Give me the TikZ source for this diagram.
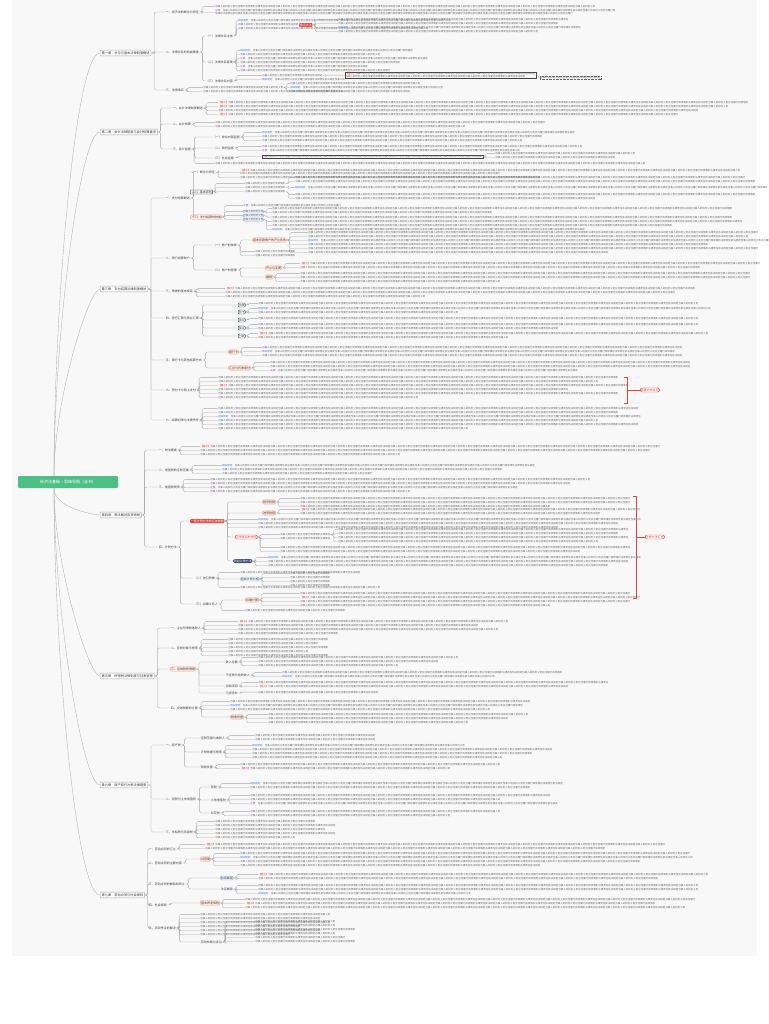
\documentclass[tikz,border=0pt]{standalone}
\usepackage{fontspec}
\setmainfont{Noto Sans CJK SC}
\XeTeXlinebreaklocale "zh"
\XeTeXlinebreakskip=0pt plus 1pt
\usetikzlibrary{positioning}

\definecolor{mapbg}{HTML}{F8F8F8}
\definecolor{rootgreen}{HTML}{4DBF87}
\definecolor{linkgray}{HTML}{A8A8A8}
\definecolor{txtgray}{HTML}{6A6A6A}
\definecolor{hlred}{HTML}{E8453C}
\definecolor{hlblue}{HTML}{3A7BD5}
\definecolor{hlpurple}{HTML}{8E44AD}
\definecolor{orgline}{HTML}{F4A582}
\definecolor{orgfill}{HTML}{FDEEE6}
\definecolor{navy}{HTML}{3C4A66}

\tikzset{
    link/.style={draw=linkgray, line width=0.3pt, rounded corners=1.5pt},
    summ/.style={draw=hlred, line width=0.4pt},
    leaf/.style={font=\fontsize{2.5}{3.1}\selectfont, text=txtgray, inner sep=0.25pt, align=left},
    sec/.style={font=\fontsize{3}{3.6}\selectfont, text=black!75, inner sep=0.6pt},
    chap/.style={draw=gray!70, fill=white, rounded corners=0.8pt, font=\fontsize{3.2}{4}\selectfont, text=black!80, inner sep=1.4pt},
    rootbox/.style={fill=rootgreen, text=white, rounded corners=1.2pt, minimum width=100pt, minimum height=12pt, font=\fontsize{4}{5}\selectfont},
    orgo/.style={sec, draw=orgline, fill=orgfill, rounded corners=2pt, inner sep=0.8pt},
    redf/.style={sec, fill=hlred, text=white, rounded corners=0.8pt},
    redo/.style={sec, draw=hlred, fill=white, text=hlred, rounded corners=2pt},
    navyf/.style={sec, fill=navy, text=white, rounded corners=1.5pt},
    navyo/.style={sec, draw=navy, fill=white, line width=0.4pt, rounded corners=1pt},
    darkbox/.style={sec, draw=black!80, rounded corners=0.5pt},
    bluesec/.style={sec, draw=hlblue!60, fill=hlblue!6, rounded corners=1.5pt},
    bluebox/.style={draw=hlblue!60, fill=hlblue!6, rounded corners=1pt},
    boxed/.style={draw=black!75, line width=0.35pt},
    dotbox/.style={draw=black!60, densely dotted},
    tw/.style={}
}

% filler lines, 4 chars a unit
\newcommand\ft[2]{%
    \ifcase#2\or\textcolor{hlred}{【重点】}\or\textcolor{hlblue}{相关规定：}\or\textcolor{hlpurple}{注意：}\fi%
    \foreach \k in {1,...,#1}{\pgfmathtruncatemacro\mm{mod(\k,6)}\ifcase\mm 依法规定\or 当事人的\or 权利义务\or 应当履行\or 具体情形\or 法律责任\fi}}

% topic node and its connector
\newcommand\sn[6][sec]{%
    \node[#1,anchor=west] (#2) at (#3,#4) {#5};
    \draw[link] (#6.east) -- ++(3,0) |- (#2.west);}

% block of leaves: name, parent, x, y, width, entries
\newcommand\lv[7][]{%
    \foreach \nn/\cc [count=\i, remember=\i as \j (initially 0)] in {#7}{%
        \pgfmathtruncatemacro\wrapq{10*\nn+(\cc>0)*15 > #6+16 ? 1 : 0}%
        \ifnum\wrapq=1 \tikzset{tw/.style={text width=#6pt}}\else\tikzset{tw/.style={}}\fi
        \ifnum\i=1
            \node[leaf,tw,anchor=north west,#1] (#2-\i) at (#4,#5) {\ft{\nn}{\cc}};
        \else
            \node[leaf,tw,anchor=north west,#1] (#2-\i) at ([yshift=-0.8pt]#2-\j.south west) {\ft{\nn}{\cc}};
        \fi
        \draw[link] (#3.east) -- ++(2.5,0) |- (#2-\i.west);
    }}

\begin{document}
\begin{tikzpicture}[x=1pt,y=-1pt]
    \useasboundingbox (0,0) rectangle (768,1024);
    \fill[mapbg] (12,0) rectangle (757,956);

    \node[rootbox] (root) at (68,482) {经济法基础·思维导图（全书）};
    \node[chap,anchor=west] (c1) at (100,53) {第一章　总论与基本法律制度概述};
    \node[chap,anchor=west] (c2) at (100,132) {第二章　会计法律制度与会计核算要求};
    \node[chap,anchor=west] (c3) at (100,289) {第三章　支付结算法律制度概述};
    \node[chap,anchor=west] (c4) at (100,515) {第四章　税法概述及货物税};
    \node[chap,anchor=west] (c5) at (100,676) {第五章　所得税法律制度与征收管理};
    \node[chap,anchor=west] (c6) at (100,785) {第六章　财产和行为税法律制度};
    \node[chap,anchor=west] (c7) at (100,895) {第七章　劳动合同与社会保险};
    \foreach \ch in {c1,c2,c3}
        \draw[link] ([xshift=-14pt]root.north) to[out=90,in=180,out looseness=1,in looseness=0.15] (\ch.west);
    \foreach \ch in {c4,c5,c6,c7}
        \draw[link] ([xshift=-14pt]root.south) to[out=-90,in=180,out looseness=1,in looseness=0.15] (\ch.west);

    % chapter 1
    \sn{s11}{165}{12}{一、经济法的概念与特征}{c1}
    \lv{a11}{s11}{215}{5}{400}{38/0,75/3}
    \sn{s12}{165}{52}{二、法律关系的构成要素}{c1}
    \sn{t121}{205}{36}{（一）法律关系主体}{s12}
    \lv{a121}{t121}{238}{19}{200}{20/2,6/0,19/0}
    \sn[redf]{r121}{299}{25}{重点关注}{a121-2}
    \lv{a122}{r121}{338}{18}{230}{23/0,22/0,23/2,20/0}
    \sn{t122}{205}{62}{（二）法律关系客体}{s12}
    \lv{a123}{t122}{240}{49}{180}{16/2,14/0,18/3,16/0,12/3,15/0}
    \sn{t123}{205}{81}{（三）法律关系内容}{s12}
    \lv{a124}{t123}{262}{74}{80}{6/0,7/2}
    \lv[boxed]{a125}{a124-1}{345}{72}{190}{36/1}
    \lv[dotbox]{a126}{a125-1}{540}{76}{60}{6/0}
    \sn{s13}{165}{90}{三、法律事实}{c1}
    \lv{a13}{s13}{203}{86}{150}{8/0,14/0}
    \lv{a131}{a13-1}{290}{82}{140}{13/0,14/2,12/0}

    % chapter 2
    \sn{s21}{172}{108}{一、会计法律制度概述}{c2}
    \lv{a21}{s21}{218}{101}{530}{52/1,50/1,48/0,45/1}
    \sn{s22}{172}{124}{二、会计核算}{c2}
    \lv{a22}{s22}{215}{121}{330}{33/0,25/0}
    \sn{s23}{172}{149}{三、会计监督}{c2}
    \sn{t231}{212}{137}{（一）单位内部监督}{s23}
    \lv{a231}{t231}{262}{131}{300}{30/2,28/0,26/0}
    \sn{t232}{212}{148}{（二）政府监督}{s23}
    \lv{a232}{t232}{262}{145}{320}{32/0,25/3}
    \sn{t233}{212}{158}{（三）社会监督}{s23}
    \lv[boxed]{a233}{t233}{262}{155}{225}{22/0}
    \lv{a234}{a233-1}{495}{152}{150}{14/0,12/0}
    \lv{a235}{s23}{215}{162}{430}{43/0}

    % chapter 3
    \sn{s31}{165}{198}{一、支付结算概述}{c3}
    \sn{t311}{190}{172}{（一）概念与特征}{s31}
    \lv{a311}{t311}{240}{169}{500}{75/1,30/0}
    \sn[darkbox]{t312}{190}{192}{（二）基本原则}{s31}
    \lv{a312}{t312}{245}{182}{45}{4/0,4/0,4/0}
    \lv{a3121}{a312-1}{295}{176}{460}{45/0,46/0}
    \lv{a3122}{a312-2}{295}{186}{460}{46/2}
    \lv{a3123}{a312-3}{295}{193}{460}{46/0,30/0}
    \sn[orgo]{t313}{190}{217}{（三）支付结算的种类}{s31}
    \lv{a3130}{t313}{243}{204}{100}{9/3}
    \lv[bluebox]{a313}{t313}{243}{210}{24}{2/0,2/0,2/0}
    \lv{a3131}{a313-1}{272}{207}{470}{46/0,22/0}
    \lv{a3132}{a313-2}{272}{215.5}{470}{46/0}
    \lv{a3133}{a313-3}{272}{220}{470}{47/0,40/0,30/2}
    \sn{s32}{165}{258}{二、银行结算账户}{c3}
    \sn{t321}{212}{245}{（一）账户的种类}{s32}
    \sn[orgo]{o321}{252}{240}{基本存款账户的开立条件}{t321}
    \lv{a321}{o321}{308}{231}{450}{45/0,44/0,45/2,40/0,45/0,30/0}
    \lv{a3212}{t321}{255}{250}{40}{4/0,4/0}
    \sn{t322}{212}{270}{（二）账户的管理}{s32}
    \sn[orgo]{o3221}{265}{268}{开立与变更}{t322}
    \sn[orgo]{o3222}{265}{277}{撤销}{t322}
    \lv{a3221}{o3221}{300}{262}{450}{45/1,40/0}
    \lv{a3222}{o3222}{300}{272}{450}{45/0,45/0,20/0}
    \sn{s33}{165}{291}{三、票据的基本规定}{c3}
    \lv{a33}{s33}{225}{287}{460}{46/1,45/0,20/0}
    \sn{s34}{165}{318}{四、银行汇票与商业汇票}{c3}
    \sn[navyo]{n341}{238}{305}{出票}{s34}
    \sn[navyo]{n342}{238}{312}{背书}{s34}
    \sn[navyo]{n343}{238}{320}{承兑}{s34}
    \sn[navyo]{n344}{238}{328}{保证}{s34}
    \sn[navyo]{n345}{238}{336}{付款}{s34}
    \lv{a341}{n341}{258}{302}{440}{44/0}
    \lv{a342}{n342}{258}{307}{440}{44/2,20/0}
    \lv{a343}{n343}{258}{317}{440}{44/0}
    \lv{a344}{n344}{258}{323}{440}{44/0,30/0}
    \lv{a345}{n345}{258}{332}{440}{44/1,25/0}
    \sn{s35}{165}{360}{五、银行卡与其他结算方式}{c3}
    \sn[orgo]{o351}{228}{352}{银行卡}{s35}
    \sn[orgo]{o352}{228}{368}{汇兑与托收承付}{s35}
    \lv{a351}{o351}{262}{346}{420}{42/0,40/2,42/0}
    \lv{a352}{o352}{270}{361}{420}{42/0,42/0,30/3}
    \sn{s36}{165}{390}{六、预付卡与网上支付}{c3}
    \lv{a36}{s36}{218}{376}{400}{40/0,38/0,40/1,35/0,40/0,20/0}
    \coordinate (br1a) at (624,377);
    \coordinate (br1b) at (624,403);
    \coordinate (br1m) at (627,390);
    \node[redo,anchor=west] (rb1) at (640,390) {结算方式比较};
    \draw[summ] (br1a) -- ++(3,0) |- (br1b);
    \draw[summ] (br1m) -- (rb1.west);
    \sn{s37}{165}{420}{七、结算纪律与法律责任}{c3}
    \lv{a37}{s37}{218}{407}{420}{42/0,40/0,41/2,38/0,42/0,25/0}

    % chapter 4
    \sn{s41}{158}{450}{一、税法要素}{c4}
    \lv{a41}{s41}{200}{445}{450}{45/1,45/0,20/0}
    \sn{s42}{158}{470}{二、增值税的征税范围}{c4}
    \lv{a42}{s42}{222}{464}{300}{30/2,28/0,15/0}
    \sn{s43}{158}{487}{三、增值税税率}{c4}
    \lv{a43}{s43}{210}{478}{380}{38/0,36/0,30/3,20/0}
    \sn{s44}{158}{547}{四、计税方法}{c4}
    \sn[redf]{r441}{190}{521}{一般计税方法的应纳税额}{s44}
    \sn[orgo]{o4411}{262}{502}{销项税额}{r441}
    \sn[orgo]{o4412}{262}{513}{进项税额}{r441}
    \lv{a4411}{o4411}{300}{497}{330}{33/0,33/0,25/0}
    \lv{a4412}{o4412}{300}{508}{330}{33/1,30/0}
    \lv{a4413}{r441}{258}{518}{370}{37/2,36/0,30/0}
    \sn[redo]{ro442}{235}{537}{不得抵扣的情形}{r441}
    \lv{a442}{ro442}{280}{533}{50}{5/0,5/0}
    \lv{a4421}{a442-1}{338}{528}{290}{29/0,28/0,29/0,26/0}
    \lv{a4422}{ro442}{280}{546}{350}{35/0,30/0}
    \sn[navyf]{n443}{233}{561}{简易计税方法}{r441}
    \lv{a443}{n443}{268}{556}{360}{36/2,36/0,34/0}
    \sn{t444}{193}{578}{（二）进口货物}{s44}
    \lv{a444}{t444}{240}{571}{150}{12/0}
    \sn[bluesec]{b444}{240}{579}{组成计税价格}{t444}
    \lv{a4441}{b444}{290}{572}{40}{4/0,4/0,4/0,4/0}
    \lv{a4442}{t444}{240}{586}{160}{14/0}
    \sn{t445}{193}{604}{（三）扣缴义务人}{s44}
    \sn[orgo]{o445}{245}{600}{扣缴计算}{t445}
    \lv{a445}{o445}{300}{592}{330}{33/0,33/1,33/0,25/0}
    \lv{a4452}{t445}{245}{609}{120}{10/0}
    \coordinate (br2a) at (633,496);
    \coordinate (br2b) at (633,598);
    \coordinate (br2m) at (636,537);
    \node[redo,anchor=west] (rb2) at (645,537) {计税方法汇总};
    \draw[summ] (br2a) -- ++(3,0) |- (br2b);
    \draw[summ] (br2m) -- (rb2.west);

    % chapter 5
    \sn{s51}{170}{628}{一、企业所得税纳税人}{c5}
    \lv{a51}{s51}{238}{620}{260}{26/1,24/0,26/0,10/0}
    \sn{s52}{170}{648}{二、征税对象与税率}{c5}
    \lv{a52}{s52}{228}{638}{100}{10/0,9/0,10/0,8/0,10/0}
    \sn[orgo]{s53}{170}{669}{三、应纳税所得额}{c5}
    \sn{t531}{225}{662}{收入总额}{s53}
    \sn{t532}{225}{675}{不征税与免税收入}{s53}
    \sn{t533}{225}{686}{扣除项目}{s53}
    \sn{t534}{225}{693}{亏损弥补}{s53}
    \lv{a5311}{t531}{258}{656}{220}{20/0,18/0,14/0}
    \lv{a5321}{t532}{282}{671}{280}{28/0,20/2}
    \lv{a5331}{t533}{258}{681}{350}{35/0,30/1}
    \lv{a5341}{t534}{258}{690.5}{300}{12/0}
    \sn{s54}{170}{708}{四、应纳税额的计算}{c5}
    \lv{a54}{s54}{230}{700}{300}{30/0,28/2,26/0}
    \sn[orgo]{o54}{230}{717}{税收优惠}{s54}
    \lv{a541}{o54}{268}{713}{260}{26/0,24/0,20/0}

    % chapter 6
    \sn{s61}{165}{745}{一、房产税}{c6}
    \sn{t611}{200}{738}{征税范围与纳税人}{s61}
    \lv{a611}{t611}{255}{734}{130}{12/0,12/0}
    \sn{t612}{200}{752}{计税依据与税率}{s61}
    \lv{a612}{t612}{252}{744}{320}{20/2,30/0,28/0,25/0}
    \sn{t613}{200}{767}{税收优惠}{s61}
    \lv{a613}{t613}{240}{763}{280}{26/0,20/1}
    \sn{s62}{165}{799}{二、契税与土地增值税}{c6}
    \sn{t621}{210}{787}{契税}{s62}
    \lv{a621}{t621}{250}{782}{300}{30/2,28/0}
    \sn{t622}{210}{800}{土地增值税}{s62}
    \lv{a622}{t622}{250}{794}{320}{30/0,25/0,30/3}
    \sn{t623}{210}{813}{印花税}{s62}
    \lv{a623}{t623}{250}{810}{260}{25/0,20/0}
    \sn{s63}{165}{832}{三、车船税与资源税}{c6}
    \lv{a63}{s63}{215}{820}{120}{10/0,12/0,11/0,12/0,8/0}

    % chapter 7
    \sn{s71}{148}{849}{一、劳动合同的订立}{c7}
    \lv{a71}{s71}{205}{843}{450}{45/1,40/0}
    \sn{s72}{148}{863}{二、劳动合同的主要内容}{c7}
    \sn[orgo]{o72}{200}{859}{试用期}{s72}
    \lv{a72}{o72}{240}{852}{450}{45/0,44/2,40/0,30/0}
    \sn{s73}{148}{884}{三、劳动合同的解除和终止}{c7}
    \sn[bluesec]{b73}{220}{878}{协商解除}{s73}
    \lv{a731}{b73}{258}{873}{440}{44/1,40/0}
    \sn{t732}{220}{889}{法定解除}{s73}
    \lv{a732}{t732}{258}{884}{440}{44/0,44/0,20/2}
    \sn{s74}{148}{905}{四、社会保险}{c7}
    \sn[orgo]{o74}{200}{903}{基本养老保险}{s74}
    \lv{a74}{o74}{245}{898}{450}{45/0,40/1,44/0}
    \sn{s75}{148}{928}{五、劳动争议的解决}{c7}
    \lv{a75}{s75}{200}{913}{130}{13/0,12/0,13/0,10/0,12/0,9/0}
    \sn{t751}{200}{942}{劳动仲裁与诉讼}{s75}
    \lv{a751}{t751}{255}{920}{130}{8/0,8/0,10/0,8/0,9/0,10/0}
\end{tikzpicture}
\end{document}
